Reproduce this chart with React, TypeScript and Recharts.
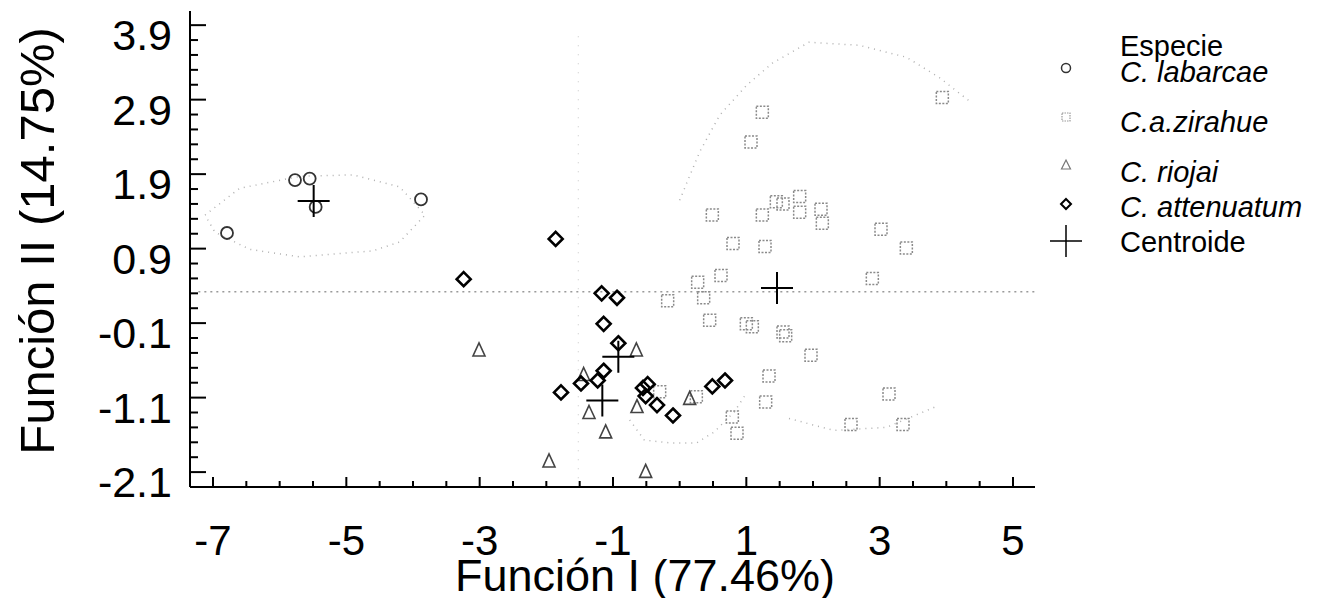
import { ReferenceLine, Scatter, ScatterChart, XAxis, YAxis } from "recharts"

// axis ticks
const X_LABELS = [-7, -5, -3, -1, 1, 3, 5]
const Y_LABELS = [-2.1, -1.1, -0.1, 0.9, 1.9, 2.9, 3.9]
const X_TICKS = Array.from({ length: 25 }, (_, i) => -7 + i * 0.5)
const Y_TICKS = Array.from({ length: 31 }, (_, i) => Math.round((-2.1 + i * 0.2) * 10) / 10)

// species scores [Función I, Función II]
const labarcae = [
  [-5.77, 1.82], [-5.55, 1.84], [-5.46, 1.46], [-3.88, 1.56], [-6.79, 1.11],
]
const zirahue = [
  [1.24, 2.73], [1.07, 2.33], [3.94, 2.93], [0.49, 1.35], [1.24, 1.35],
  [1.45, 1.53], [1.55, 1.5], [1.8, 1.6], [1.8, 1.39], [2.12, 1.43],
  [2.14, 1.24], [0.8, 0.97], [1.28, 0.93], [3.02, 1.16], [3.4, 0.91],
  [2.89, 0.5], [0.27, 0.45], [0.62, 0.54], [-0.18, 0.2], [0.36, 0.24],
  [0.45, -0.06], [1.0, -0.11], [1.09, -0.15], [1.55, -0.22], [1.59, -0.27],
  [1.97, -0.53], [1.34, -0.81], [1.29, -1.16], [0.79, -1.36], [0.86, -1.58],
  [-0.3, -1.02], [0.25, -1.09], [3.14, -1.05], [2.57, -1.46], [3.35, -1.46],
]
const riojai = [
  [-3.01, -0.46], [-0.65, -0.46], [-1.44, -0.79], [-1.36, -1.3], [-1.11, -1.56],
  [-0.64, -1.22], [0.15, -1.11], [-1.96, -1.95], [-0.51, -2.09],
]
const attenuatum = [
  [-1.86, 1.03], [-3.24, 0.49], [-1.17, 0.3], [-0.94, 0.24], [-1.14, -0.11],
  [-0.92, -0.37], [-1.14, -0.74], [-1.23, -0.87], [-1.48, -0.91], [-1.78, -1.03],
  [-0.55, -0.97], [-0.48, -0.92], [-0.51, -1.08], [-0.34, -1.2], [-0.1, -1.34],
  [0.49, -0.95], [0.68, -0.87],
]
const centroids = [
  [-5.49, 1.54], [1.46, 0.37], [-1.16, -1.14], [-0.92, -0.55],
]

// faint dotted contours
const contourLabarcae = [
  [-7.12, 1.35], [-6.6, 1.71], [-5.7, 1.87], [-4.9, 1.89], [-4.2, 1.73], [-3.82, 1.35],
  [-4.2, 0.99], [-4.6, 0.87], [-5.7, 0.79], [-6.45, 0.89], [-6.97, 1.12], [-7.12, 1.35],
]
const contourTop = [
  [0.0, 1.55], [0.3, 2.2], [0.6, 2.69], [1.0, 3.09], [1.39, 3.39], [1.94, 3.67],
  [2.69, 3.63], [3.4, 3.47], [3.89, 3.2], [4.39, 2.85],
]
const contourLow = [
  [-0.75, -1.4], [-0.53, -1.67], [-0.12, -1.71], [0.25, -1.71], [0.52, -1.56],
  [0.82, -1.29], [1.01, -1.03],
]
const contourRight = [
  [1.64, -1.38], [2.31, -1.54], [3.1, -1.5], [3.82, -1.23],
]
const DIVIDER_Y = 0.32
const DIVIDER_X = -1.52

const toPoints = (rows: number[][]) => rows.map(([x, y]) => ({ x, y }))

const FONT = "'Liberation Sans', Arial, sans-serif"
const X_DOMAIN: [number, number] = [-7.345, 5.33]
const Y_DOMAIN: [number, number] = [-2.3, 4.09]

const isLabel = (list: number[], v: number) => list.some((l) => Math.abs(l - v) < 1e-6)

function BottomTick({ x, y, payload }: any) {
  const major = isLabel(X_LABELS, payload.value)
  return (
    <g>
      <line x1={x} x2={x} y1={y} y2={y - (major ? 10 : 6)} stroke="#000" strokeWidth={2} />
      {major && (
        <text x={x} y={y + 68} textAnchor="middle" fontSize={42} fontFamily={FONT} fill="#000">
          {payload.value}
        </text>
      )}
    </g>
  )
}

function TopTick({ x, y, payload }: any) {
  const major = isLabel(X_LABELS, payload.value)
  return <line x1={x} x2={x} y1={y} y2={y + (major ? 9 : 5)} stroke="#000" strokeWidth={2} />
}

function LeftTick({ x, y, payload }: any) {
  const major = isLabel(Y_LABELS, payload.value)
  return (
    <g>
      <line x1={x} x2={x + (major ? 16 : 8)} y1={y} y2={y} stroke="#000" strokeWidth={2} />
      {major && (
        <text x={x - 18} y={y + 25} textAnchor="end" fontSize={43} fontFamily={FONT} fill="#000">
          {payload.value.toFixed(1)}
        </text>
      )}
    </g>
  )
}

function RightTick({ x, y, payload }: any) {
  const major = isLabel(Y_LABELS, payload.value)
  return <line x1={x} x2={x - (major ? 17 : 8)} y1={y} y2={y} stroke="#000" strokeWidth={2} />
}

const Circle = ({ cx, cy }: any) => (
  <circle cx={cx} cy={cy} r={6} fill="none" stroke="#333" strokeWidth={1.8} />
)
const Square = ({ cx, cy }: any) => (
  <rect x={cx - 6} y={cy - 6} width={12} height={12} fill="none" stroke="#8a8a8a"
    strokeWidth={1.5} strokeDasharray="2 1.5" />
)
const Triangle = ({ cx, cy }: any) => (
  <path d={`M${cx},${cy - 7}L${cx + 6},${cy + 6}L${cx - 6},${cy + 6}Z`} fill="none"
    stroke="#444" strokeWidth={1.6} />
)
const Diamond = ({ cx, cy }: any) => (
  <path d={`M${cx},${cy - 7}L${cx + 7},${cy}L${cx},${cy + 7}L${cx - 7},${cy}Z`} fill="none"
    stroke="#000" strokeWidth={2.6} />
)
const Plus = ({ cx, cy }: any) => (
  <path d={`M${cx - 16},${cy}H${cx + 16}M${cx},${cy - 16}V${cy + 16}`} stroke="#000" strokeWidth={2} />
)
const NoDot = () => <g />

const contourLine = { stroke: "#b0b0b0", strokeWidth: 1.5, strokeDasharray: "1 5" }

const legendRows = [
  { label: "Especie", italic: false, top: 38 },
  { label: "C. labarcae", italic: true, top: 64 },
  { label: "C.a.zirahue", italic: true, top: 114 },
  { label: "C. riojai", italic: true, top: 164 },
  { label: "C. attenuatum", italic: true, top: 199 },
  { label: "Centroide", italic: false, top: 234 },
]

export default function App() {
  return (
    <div style={{ position: "relative", width: 1303, height: 590, fontFamily: FONT }}>
      <ScatterChart width={1303} height={590} margin={{ top: 3, right: 276, bottom: 0, left: 0 }}>
        <XAxis
          dataKey="x" type="number" domain={X_DOMAIN} allowDataOverflow ticks={X_TICKS}
          interval={0} height={111} tickSize={0} tickMargin={0} tickLine={false}
          axisLine={{ stroke: "#000", strokeWidth: 2 }} tick={<BottomTick />}
        />
        <XAxis
          xAxisId="top" orientation="top" dataKey="x" type="number" domain={X_DOMAIN}
          allowDataOverflow ticks={X_TICKS} interval={0} height={0} tickSize={0} tickMargin={0}
          tickLine={false} axisLine={{ stroke: "#000", strokeWidth: 2 }} tick={<TopTick />}
        />
        <YAxis
          dataKey="y" type="number" domain={Y_DOMAIN} allowDataOverflow ticks={Y_TICKS}
          interval={0} width={182} tickSize={0} tickMargin={0} tickLine={false}
          axisLine={{ stroke: "#000", strokeWidth: 2 }} tick={<LeftTick />}
        />
        <YAxis
          yAxisId="right" orientation="right" dataKey="y" type="number" domain={Y_DOMAIN}
          allowDataOverflow ticks={Y_TICKS} interval={0} width={0} tickSize={0} tickMargin={0}
          tickLine={false} axisLine={{ stroke: "#000", strokeWidth: 2 }} tick={<RightTick />}
        />

        <ReferenceLine
          segment={[{ x: -7.22, y: DIVIDER_Y }, { x: 5.33, y: DIVIDER_Y }]}
          stroke="#9a9a9a" strokeWidth={1.5} strokeDasharray="2 4" ifOverflow="hidden"
        />
        <ReferenceLine
          segment={[{ x: DIVIDER_X, y: 3.75 }, { x: DIVIDER_X, y: -2.2 }]}
          stroke="#d0d0d0" strokeWidth={1.2} strokeDasharray="1 8" ifOverflow="hidden"
        />

        <Scatter data={toPoints(contourLabarcae)} line={contourLine} lineType="joint" shape={<NoDot />} isAnimationActive={false} />
        <Scatter data={toPoints(contourTop)} line={contourLine} lineType="joint" shape={<NoDot />} isAnimationActive={false} />
        <Scatter data={toPoints(contourLow)} line={contourLine} lineType="joint" shape={<NoDot />} isAnimationActive={false} />
        <Scatter data={toPoints(contourRight)} line={contourLine} lineType="joint" shape={<NoDot />} isAnimationActive={false} />

        <Scatter name="C.a.zirahue" data={toPoints(zirahue)} shape={<Square />} isAnimationActive={false} />
        <Scatter name="C. riojai" data={toPoints(riojai)} shape={<Triangle />} isAnimationActive={false} />
        <Scatter name="C. labarcae" data={toPoints(labarcae)} shape={<Circle />} isAnimationActive={false} />
        <Scatter name="C. attenuatum" data={toPoints(attenuatum)} shape={<Diamond />} isAnimationActive={false} />
        <Scatter name="Centroide" data={toPoints(centroids)} shape={<Plus />} isAnimationActive={false} />
      </ScatterChart>

      <div
        style={{
          position: "absolute", left: 637, top: 567, transform: "translate(-50%, -50%)",
          fontSize: 45, lineHeight: 1, whiteSpace: "nowrap", color: "#000",
        }}
      >
        Función I (77.46%)
      </div>
      <div
        style={{
          position: "absolute", left: 29, top: 233, lineHeight: 1,
          transform: "translate(-50%, -50%) rotate(-90deg)",
          fontSize: 49, whiteSpace: "nowrap", color: "#000",
        }}
      >
        Función II (14.75%)
      </div>

      <svg width={40} height={260} style={{ position: "absolute", left: 1038, top: 0 }}>
        <circle cx={20} cy={60} r={4.5} fill="none" stroke="#333" strokeWidth={1.5} />
        <rect x={16} y={105} width={8} height={8} fill="none" stroke="#999" strokeWidth={1.2} strokeDasharray="1.5 1" />
        <path d="M20,152L24.5,161L15.5,161Z" fill="none" stroke="#777" strokeWidth={1.2} />
        <path d="M20,191L25,196L20,201L15,196Z" fill="none" stroke="#000" strokeWidth={2} />
        <path d="M4,233H36M20,217V249" stroke="#000" strokeWidth={1.5} />
      </svg>
      {legendRows.map((row) => (
        <div
          key={row.label}
          style={{
            position: "absolute", left: 1112, top: row.top - 16, fontSize: 29, lineHeight: "32px",
            fontStyle: row.italic ? "italic" : "normal", color: "#000", whiteSpace: "nowrap",
          }}
        >
          {row.label}
        </div>
      ))}
    </div>
  )
}
